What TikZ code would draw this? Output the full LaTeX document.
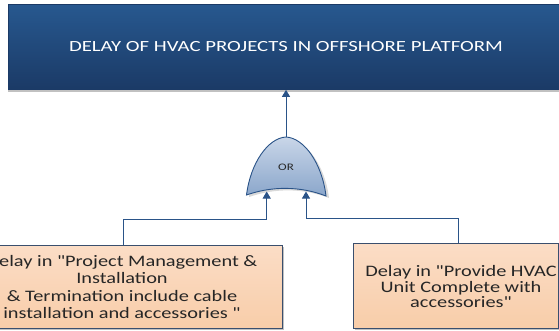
\documentclass[tikz,border=0pt]{standalone}
\usepackage{fontspec}
\setmainfont{Carlito}[Ligatures=TeXOff]
\usetikzlibrary{arrows.meta,shadows}
\definecolor{topA}{HTML}{27588F}
\definecolor{topB}{HTML}{1B3A66}
\definecolor{peachA}{HTML}{FBDDC6}
\definecolor{peachB}{HTML}{F8CDA9}
\definecolor{edge}{HTML}{3A4F6E}
\definecolor{wire}{HTML}{2A5388}
\definecolor{gateA}{HTML}{C9D6E8}
\definecolor{gateB}{HTML}{8AA6CB}
\newcommand{\qd}{\symbol{"22}}
\tikzset{
  topbox/.style={draw=topB, top color=topA, bottom color=topB, line width=0.6pt,
    drop shadow={shadow xshift=0pt, shadow yshift=-2.5pt, fill=gray!60, opacity=0.8},
    minimum width=556pt, minimum height=85pt, inner sep=0pt},
  eventbox/.style={draw=edge, top color=peachA, bottom color=peachB, line width=0.8pt,
    drop shadow={shadow xshift=2pt, shadow yshift=-2pt, fill=gray!60, opacity=0.8},
    inner sep=0pt},
  evtext/.style={align=center, text=black!85, inner sep=0pt},
  conn/.style={draw=wire, line width=1pt},
  arr/.style={conn, -{Triangle[width=8pt,length=7pt]}}
}
\begin{document}
\begin{tikzpicture}[x=1pt,y=-1pt]
\useasboundingbox (0,0) rectangle (559,331);
% top event
\node[topbox] (top) at (286,47) {};
\node[text=white, font=\fontsize{15.5}{17}\selectfont, inner sep=0pt] (toptext) at (286,46.5) {\scalebox{1.34}[1]{DELAY OF HVAC PROJECTS IN OFFSHORE PLATFORM}};
% OR gate
\fill[gray!50, opacity=0.6] (249,197) .. controls (253,165) and (270,140) .. (288,139)
   .. controls (306,140) and (325,165) .. (329,198) .. controls (303,188) and (275,188) .. cycle;
\path[draw=wire, line width=0.9pt, top color=gateA, bottom color=gateB]
  (246.5,195) .. controls (250.5,163) and (268,138) .. (286,137)
  .. controls (304,138) and (322,163) .. (326,196)
  .. controls (300,186) and (272,186) .. cycle;
\node[font=\fontsize{10}{11}\selectfont, text=black!85, inner sep=0pt] (ortext) at (286,167) {\scalebox{1.3}[1]{OR}};
\coordinate (gout) at (286,137);
\coordinate (gin1) at (266.7,191.5);
\coordinate (gin2) at (306,191.5);
% basic events
\node[eventbox, minimum width=320pt, minimum height=83pt] (left) at (122,286.5) {};
\node[evtext, font=\fontsize{16}{17.2}\selectfont] (lefttext) at (122,289) {\scalebox{1.27}[1]{\begin{tabular}{@{}c@{}}Delay in \qd Project Management \&\\Installation\\\& Termination include cable\\installation and accessories \qd\end{tabular}}};
\node[eventbox, minimum width=205pt, minimum height=85pt] (right) at (455.5,285.5) {};
\node[evtext, font=\fontsize{16}{15.5}\selectfont] (righttext) at (461,289) {\scalebox{1.27}[1]{\begin{tabular}{@{}c@{}}Delay in \qd Provide HVAC\\Unit Complete with\\accessories\qd\end{tabular}}};
% connectors
\draw[arr] (gout) -- (top.south -| gout);
\draw[arr] (left.north -| 123,0) |- (266.7,219) -- (gin1);
\draw[arr] (right.north -| 458,0) |- (306,218) -- (gin2);
\end{tikzpicture}
\end{document}
